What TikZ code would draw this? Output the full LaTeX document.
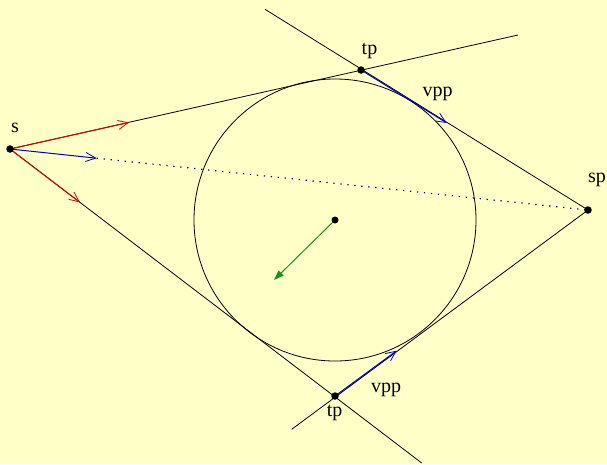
\documentclass[tikz,border=0pt]{standalone}
\usepackage{fontspec}
\setmainfont{Liberation Serif}
\usetikzlibrary{arrows.meta}
\definecolor{bgyellow}{RGB}{255,255,200}
\definecolor{vred}{RGB}{225,0,0}
\definecolor{vblue}{RGB}{0,0,210}
\definecolor{vgreen}{RGB}{20,150,20}
\tikzset{
  geoline/.style={line width=0.8pt, black},
  vecarrow/.style={line width=1pt, -{Straight Barb[length=10pt,width=9pt,line width=0.8pt]}},
  ptdot/.style={circle, fill=black, inner sep=0pt, minimum size=7.5pt},
  lbl/.style={font=\fontsize{20}{24}\selectfont, inner sep=0pt, anchor=base},
}
\begin{document}
\begin{tikzpicture}[x=1pt,y=-1pt]
  \fill[bgyellow] (0,0) rectangle (607,464);
  \useasboundingbox (0,0) rectangle (607,464);
  % key points
  \coordinate (s) at (10,149);
  \coordinate (sp) at (588,210);
  \coordinate (tpA) at (361,70);
  \coordinate (tpB) at (335,396);
  \coordinate (C) at (335,220);
  % line end points
  \coordinate (upEnd) at (518,35);
  \coordinate (loEnd) at (421.7,463);
  \coordinate (tlStart) at (265,9.3);
  \coordinate (blStart) at (291.7,429.3);
  % arrow tips
  \coordinate (rUp) at (129,122.5);
  \coordinate (rLo) at (80,202.4);
  \coordinate (bS) at (96.7,158.2);
  \coordinate (vA) at (446.7,122.9);
  \coordinate (vB) at (396.7,350.7);
  \coordinate (gT) at (274,280);
  % circle
  \draw[geoline] (C) circle[radius=141];
  % tangent lines
  \draw[geoline] (s) -- (upEnd);
  \draw[geoline] (s) -- (loEnd);
  \draw[geoline] (tlStart) -- (sp);
  \draw[geoline] (blStart) -- (sp);
  % dotted line
  \draw[vblue!60!black, line width=1.2pt, dash pattern=on 1.3pt off 5.7pt] (bS) -- (sp);
  % vectors
  \draw[vecarrow, vred] (s) -- (rUp);
  \draw[vecarrow, vred] (s) -- (rLo);
  \draw[vecarrow, vblue] (s) -- (bS);
  \draw[vecarrow, vblue] (tpA) -- (vA);
  \draw[vecarrow, vblue] (tpB) -- (vB);
  \draw[vgreen, line width=1pt, -{Triangle[length=10pt,width=7pt]}] (C) -- (gT);
  % dots
  \node[ptdot] (ds) at (s) {};
  \node[ptdot] (dsp) at (sp) {};
  \node[ptdot] (dtpA) at (tpA) {};
  \node[ptdot] (dtpB) at (tpB) {};
  \node[ptdot, minimum size=7pt] (dC) at (C) {};
  % labels
  \node[lbl] (ls) at (15,132.3) {s};
  \node[lbl] (ltpA) at (369.5,54.5) {tp};
  \node[lbl] (lvA) at (437.5,96) {vpp};
  \node[lbl] (lsp) at (597,182) {sp};
  \node[lbl] (lvB) at (386,392) {vpp};
  \node[lbl] (ltpB) at (334.7,416.5) {tp};
\end{tikzpicture}
\end{document}
